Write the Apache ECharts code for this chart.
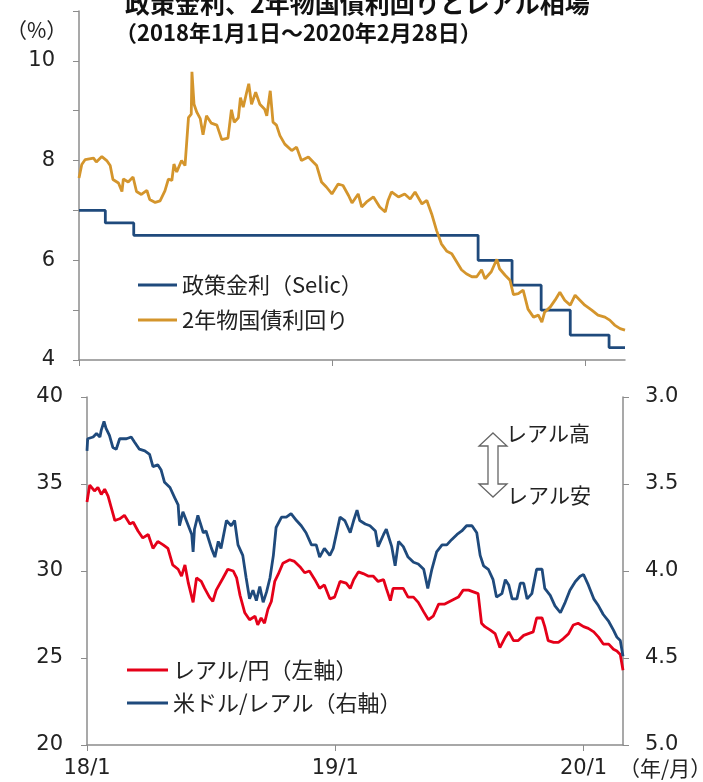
<!DOCTYPE html>
<html>
<head>
<meta charset="utf-8">
<script src="https://cdn.jsdelivr.net/npm/echarts@6/dist/echarts.min.js"></script>
<style>
  html, body { margin: 0; padding: 0; background: #fff; }
  #chart { width: 703px; height: 782px; }
</style>
</head>
<body>
<div id="chart"></div>
<script>
// 政策金利（Selic）: changes are where the step moves
const selic = [
  ['2018-01-01', 7.0], ['2018-02-08', 6.75], ['2018-03-21', 6.5], ['2019-07-31', 6.0],
  ['2019-09-18', 5.5], ['2019-10-30', 5.0], ['2019-12-11', 4.5], ['2020-02-05', 4.25],
  ['2020-02-28', 4.25]
]

// 2年物国債利回り (%)
const yield2y = [
  ['2018-01-01', 7.65], ['2018-01-05', 7.92], ['2018-01-10', 8.02], ['2018-01-22', 8.05], ['2018-01-26', 7.97],
  ['2018-02-03', 8.08], ['2018-02-10', 8.0], ['2018-02-15', 7.9], ['2018-02-19', 7.62], ['2018-02-27', 7.55],
  ['2018-03-04', 7.38], ['2018-03-06', 7.63], ['2018-03-13', 7.57], ['2018-03-20', 7.67], ['2018-03-25', 7.38],
  ['2018-04-01', 7.32], ['2018-04-09', 7.4], ['2018-04-13', 7.22], ['2018-04-21', 7.16], ['2018-04-28', 7.19],
  ['2018-05-05', 7.39], ['2018-05-10', 7.63], ['2018-05-15', 7.6], ['2018-05-18', 7.93], ['2018-05-22', 7.77],
  ['2018-05-29', 8.0], ['2018-06-03', 7.9], ['2018-06-08', 8.86], ['2018-06-12', 8.93], ['2018-06-13', 9.78],
  ['2018-06-16', 9.13], ['2018-06-20', 8.97], ['2018-06-25', 8.84], ['2018-06-29', 8.52], ['2018-07-04', 8.9],
  ['2018-07-11', 8.75], ['2018-07-19', 8.71], ['2018-07-26', 8.42], ['2018-08-04', 8.45], ['2018-08-09', 9.02],
  ['2018-08-13', 8.77], ['2018-08-19', 8.86], ['2018-08-22', 9.26], ['2018-08-26', 9.07], ['2018-08-31', 9.37],
  ['2018-09-03', 9.54], ['2018-09-07', 9.13], ['2018-09-13', 9.37], ['2018-09-19', 9.13], ['2018-09-26', 9.03],
  ['2018-09-29', 8.9], ['2018-10-04', 9.4], ['2018-10-08', 8.77], ['2018-10-13', 8.71], ['2018-10-18', 8.5],
  ['2018-10-25', 8.33], ['2018-11-04', 8.2], ['2018-11-11', 8.27], ['2018-11-18', 8.0], ['2018-11-28', 8.07],
  ['2018-12-05', 7.97], ['2018-12-10', 7.9], ['2018-12-17', 7.57], ['2018-12-24', 7.47], ['2019-01-01', 7.33],
  ['2019-01-10', 7.53], ['2019-01-17', 7.5], ['2019-01-25', 7.3], ['2019-01-30', 7.15], ['2019-02-08', 7.33],
  ['2019-02-13', 7.07], ['2019-02-20', 7.17], ['2019-03-02', 7.27], ['2019-03-11', 7.07], ['2019-03-19', 6.97],
  ['2019-03-23', 7.2], ['2019-03-28', 7.37], ['2019-04-07', 7.27], ['2019-04-16', 7.33], ['2019-04-24', 7.23],
  ['2019-05-01', 7.37], ['2019-05-11', 7.13], ['2019-05-18', 7.2], ['2019-05-25', 6.93], ['2019-06-01', 6.6],
  ['2019-06-08', 6.33], ['2019-06-16', 6.18], ['2019-06-23', 6.13], ['2019-06-30', 5.97], ['2019-07-07', 5.81],
  ['2019-07-14', 5.73], ['2019-07-22', 5.67], ['2019-07-29', 5.67], ['2019-08-05', 5.81], ['2019-08-10', 5.63],
  ['2019-08-19', 5.77], ['2019-08-27', 6.02], ['2019-08-31', 5.83], ['2019-09-08', 5.7], ['2019-09-15', 5.6],
  ['2019-09-20', 5.31], ['2019-09-27', 5.33], ['2019-10-04', 5.4], ['2019-10-11', 5.02], ['2019-10-19', 4.86],
  ['2019-10-26', 4.9], ['2019-10-31', 4.76], ['2019-11-04', 4.96], ['2019-11-12', 5.06], ['2019-11-19', 5.2],
  ['2019-11-26', 5.36], ['2019-12-03', 5.2], ['2019-12-11', 5.1], ['2019-12-18', 5.3], ['2019-12-25', 5.2],
  ['2020-01-01', 5.1], ['2020-01-11', 5.0], ['2020-01-20', 4.9], ['2020-01-30', 4.86], ['2020-02-06', 4.8],
  ['2020-02-13', 4.7], ['2020-02-21', 4.63], ['2020-02-28', 4.6]
]

// レアル/円 (左軸)
const brlJpy = [
  ['2018-01-01', 33.97], ['2018-01-05', 34.94], ['2018-01-12', 34.6], ['2018-01-17', 34.8], ['2018-01-22', 34.4],
  ['2018-01-27', 34.7], ['2018-02-01', 34.3], ['2018-02-06', 33.6], ['2018-02-11', 32.9], ['2018-02-18', 33.0],
  ['2018-02-25', 33.2], ['2018-03-05', 32.7], ['2018-03-10', 32.8], ['2018-03-17', 32.3], ['2018-03-24', 31.9],
  ['2018-04-01', 32.1], ['2018-04-08', 31.3], ['2018-04-15', 31.7], ['2018-04-23', 31.5], ['2018-04-30', 31.3],
  ['2018-05-07', 30.35], ['2018-05-15', 30.1], ['2018-05-20', 29.7], ['2018-05-25', 30.35], ['2018-05-30', 29.3],
  ['2018-06-06', 28.2], ['2018-06-11', 29.6], ['2018-06-18', 29.4], ['2018-06-23', 29.0], ['2018-06-30', 28.5],
  ['2018-07-05', 28.25], ['2018-07-10', 28.9], ['2018-07-20', 29.6], ['2018-07-27', 30.1], ['2018-08-04', 30.0],
  ['2018-08-09', 29.6], ['2018-08-14', 28.6], ['2018-08-21', 27.6], ['2018-08-28', 27.2], ['2018-09-05', 27.4],
  ['2018-09-09', 26.9], ['2018-09-14', 27.3], ['2018-09-19', 27.0], ['2018-09-24', 27.8], ['2018-09-29', 28.25],
  ['2018-10-04', 29.4], ['2018-10-09', 29.8], ['2018-10-16', 30.45], ['2018-10-26', 30.65], ['2018-11-02', 30.55],
  ['2018-11-10', 30.25], ['2018-11-17', 29.9], ['2018-11-24', 30.0], ['2018-12-02', 29.5], ['2018-12-09', 29.0],
  ['2018-12-16', 29.2], ['2018-12-24', 28.4], ['2018-12-31', 28.5], ['2019-01-08', 29.4], ['2019-01-17', 29.3],
  ['2019-01-23', 29.0], ['2019-01-28', 29.5], ['2019-02-04', 29.95], ['2019-02-11', 29.85], ['2019-02-19', 29.7],
  ['2019-02-26', 29.7], ['2019-03-05', 29.4], ['2019-03-13', 29.5], ['2019-03-17', 29.0], ['2019-03-23', 28.3],
  ['2019-03-27', 29.0], ['2019-04-04', 29.0], ['2019-04-11', 29.0], ['2019-04-18', 28.5], ['2019-04-26', 28.5],
  ['2019-05-03', 28.2], ['2019-05-11', 27.65], ['2019-05-18', 27.2], ['2019-05-25', 27.4], ['2019-06-02', 28.1],
  ['2019-06-11', 28.1], ['2019-06-21', 28.3], ['2019-07-01', 28.5], ['2019-07-08', 28.9], ['2019-07-16', 28.9],
  ['2019-07-23', 28.8], ['2019-07-30', 28.7], ['2019-08-04', 27.0], ['2019-08-09', 26.8], ['2019-08-17', 26.6],
  ['2019-08-24', 26.4], ['2019-08-31', 25.6], ['2019-09-08', 26.2], ['2019-09-13', 26.5], ['2019-09-20', 26.0],
  ['2019-09-27', 26.0], ['2019-10-05', 26.3], ['2019-10-12', 26.4], ['2019-10-19', 26.5], ['2019-10-24', 27.3],
  ['2019-11-01', 27.3], ['2019-11-05', 26.8], ['2019-11-10', 26.0], ['2019-11-18', 25.9], ['2019-11-25', 25.9],
  ['2019-12-02', 26.1], ['2019-12-10', 26.4], ['2019-12-17', 26.9], ['2019-12-24', 27.0], ['2020-01-01', 26.8],
  ['2020-01-08', 26.7], ['2020-01-16', 26.5], ['2020-01-23', 26.2], ['2020-01-30', 25.8], ['2020-02-07', 25.8],
  ['2020-02-14', 25.5], ['2020-02-19', 25.4], ['2020-02-24', 25.2], ['2020-02-28', 24.3]
]

// 米ドル/レアル (右軸, 逆目盛)
const usdBrl = [
  ['2018-01-01', 3.31], ['2018-01-02', 3.24], ['2018-01-10', 3.23], ['2018-01-15', 3.21], ['2018-01-20', 3.23],
  ['2018-01-22', 3.19], ['2018-01-26', 3.14], ['2018-01-29', 3.18], ['2018-02-03', 3.22], ['2018-02-08', 3.29],
  ['2018-02-13', 3.30], ['2018-02-18', 3.24], ['2018-02-28', 3.24], ['2018-03-07', 3.23], ['2018-03-12', 3.26],
  ['2018-03-19', 3.30], ['2018-03-27', 3.31], ['2018-04-03', 3.33], ['2018-04-08', 3.40], ['2018-04-15', 3.39],
  ['2018-04-20', 3.42], ['2018-04-25', 3.49], ['2018-05-03', 3.52], ['2018-05-10', 3.58], ['2018-05-15', 3.62],
  ['2018-05-17', 3.74], ['2018-05-22', 3.66], ['2018-05-30', 3.74], ['2018-06-04', 3.79], ['2018-06-06', 3.89],
  ['2018-06-08', 3.76], ['2018-06-13', 3.68], ['2018-06-21', 3.78], ['2018-06-25', 3.77], ['2018-07-03', 3.87],
  ['2018-07-08', 3.92], ['2018-07-13', 3.83], ['2018-07-17', 3.87], ['2018-07-25', 3.71], ['2018-08-01', 3.74],
  ['2018-08-06', 3.71], ['2018-08-11', 3.85], ['2018-08-18', 3.91], ['2018-08-23', 4.04], ['2018-08-28', 4.16],
  ['2018-09-02', 4.11], ['2018-09-07', 4.17], ['2018-09-12', 4.09], ['2018-09-17', 4.18], ['2018-09-22', 4.12],
  ['2018-09-27', 4.04], ['2018-10-02', 3.91], ['2018-10-06', 3.75], ['2018-10-14', 3.69], ['2018-10-21', 3.69],
  ['2018-10-28', 3.67], ['2018-11-05', 3.71], ['2018-11-12', 3.74], ['2018-11-19', 3.78], ['2018-11-27', 3.85],
  ['2018-12-04', 3.85], ['2018-12-09', 3.92], ['2018-12-16', 3.87], ['2018-12-24', 3.91], ['2018-12-29', 3.87],
  ['2019-01-08', 3.69], ['2019-01-15', 3.71], ['2019-01-23', 3.78], ['2019-01-28', 3.71], ['2019-02-02', 3.65],
  ['2019-02-06', 3.71], ['2019-02-14', 3.73], ['2019-02-21', 3.74], ['2019-03-01', 3.77], ['2019-03-05', 3.86],
  ['2019-03-13', 3.79], ['2019-03-17', 3.76], ['2019-03-25', 3.86], ['2019-03-30', 3.97], ['2019-04-04', 3.83],
  ['2019-04-11', 3.86], ['2019-04-18', 3.92], ['2019-04-26', 3.95], ['2019-05-03', 3.96], ['2019-05-11', 3.99],
  ['2019-05-17', 4.10], ['2019-05-23', 3.99], ['2019-05-30', 3.89], ['2019-06-07', 3.85], ['2019-06-14', 3.85],
  ['2019-06-21', 3.82], ['2019-06-29', 3.79], ['2019-07-06', 3.77], ['2019-07-13', 3.74], ['2019-07-21', 3.74],
  ['2019-07-28', 3.78], ['2019-08-02', 3.91], ['2019-08-07', 3.97], ['2019-08-14', 3.99], ['2019-08-21', 4.05],
  ['2019-08-26', 4.15], ['2019-09-03', 4.13], ['2019-09-08', 4.05], ['2019-09-13', 4.08], ['2019-09-18', 4.16],
  ['2019-09-25', 4.16], ['2019-09-30', 4.07], ['2019-10-05', 4.07], ['2019-10-10', 4.16], ['2019-10-17', 4.13],
  ['2019-10-24', 3.99], ['2019-11-01', 3.99], ['2019-11-05', 4.10], ['2019-11-13', 4.14], ['2019-11-20', 4.20],
  ['2019-11-28', 4.24], ['2019-12-05', 4.18], ['2019-12-12', 4.11], ['2019-12-20', 4.06], ['2019-12-27', 4.03],
  ['2020-01-01', 4.02], ['2020-01-08', 4.08], ['2020-01-16', 4.16], ['2020-01-23', 4.20], ['2020-01-30', 4.25],
  ['2020-02-07', 4.29], ['2020-02-14', 4.34], ['2020-02-19', 4.38], ['2020-02-24', 4.40], ['2020-02-28', 4.49]
]

const xTicks = ['2018-01-01', '2019-01-01', '2020-01-01']
const xRange = ['2018-01-01', '2020-02-28']
const seriesNames = ['政策金利（Selic）', '2年物国債利回り', 'レアル/円（左軸）', '米ドル/レアル（右軸）']

const numFont = "'DejaVu Sans', 'Noto Sans CJK JP', sans-serif"
const jpFont = "'Noto Sans CJK JP', sans-serif"
const axisGray = '#8c8c8c'
const navy = '#1f4a7c'
const gold = '#d4952c'
const red = '#e50019'

const toTime = (d) => +echarts.time.parse(d)
const withTime = (rows) => rows.map(([d, v]) => [toTime(d), v])
const tickTimes = xTicks.map(toTime)
const fmtYM = (v) => {
  const d = new Date(v)
  return String(d.getFullYear()).slice(2) + '/' + (d.getMonth() + 1)
}

const xAxisBase = (gridIndex, showLabel) => ({
  type: 'value', gridIndex, min: toTime(xRange[0]), max: toTime(xRange[1]),
  axisLine: { lineStyle: { color: axisGray, width: 1.5 } },
  axisTick: { show: true, length: 6, customValues: tickTimes, lineStyle: { color: axisGray } },
  axisLabel: { show: showLabel, customValues: tickTimes, formatter: fmtYM, fontSize: 21, color: '#222',
    fontFamily: numFont, margin: 13 },
  splitLine: { show: false }
})

const chart = echarts.init(document.getElementById('chart'))
chart.setOption({
  animation: false,
  title: [
    { text: '政策金利、2年物国債利回りとレアル相場', left: 120, top: -14,
      textStyle: { fontSize: 25, fontWeight: 'bold', color: '#111', fontFamily: jpFont } },
    { text: '（2018年1月1日～2020年2月28日）', left: 110, top: 17,
      textStyle: { fontSize: 22, fontWeight: 'bold', color: '#111', fontFamily: jpFont } }
  ],
  grid: [
    { left: 79, right: 78, top: 11, height: 349 },
    { left: 87, right: 80, top: 397, height: 348 }
  ],
  legend: [
    { left: 138, top: 273, padding: 0, orient: 'vertical', icon: 'rect', itemWidth: 39, itemHeight: 3, itemGap: 11,
      textStyle: { fontSize: 22, lineHeight: 24, color: '#222', fontFamily: jpFont },
      data: [seriesNames[0], seriesNames[1]] },
    { left: 127, top: 658, padding: 0, orient: 'vertical', icon: 'rect', itemWidth: 41, itemHeight: 3, itemGap: 9,
      textStyle: { fontSize: 22, lineHeight: 24, color: '#222', fontFamily: jpFont },
      data: [seriesNames[2], seriesNames[3]] }
  ],
  xAxis: [xAxisBase(0, false), xAxisBase(1, true)],
  yAxis: [
    { type: 'value', gridIndex: 0, min: 4, max: 11, interval: 1,
      axisLine: { show: true, lineStyle: { color: axisGray, width: 1.5 } },
      axisTick: { show: true, length: 6, lineStyle: { color: axisGray } },
      axisLabel: { formatter: (v) => (v % 2 === 0 && v <= 10 ? String(v) : ''),
        fontSize: 21, color: '#222', fontFamily: numFont, margin: 24 },
      splitLine: { show: false } },
    { type: 'value', gridIndex: 1, min: 20, max: 40, interval: 5,
      axisLine: { show: true, lineStyle: { color: axisGray, width: 1.5 } },
      axisTick: { show: true, length: 6, lineStyle: { color: axisGray } },
      axisLabel: { fontSize: 21, color: '#222', fontFamily: numFont, margin: 24 },
      splitLine: { show: false } },
    { type: 'value', gridIndex: 1, position: 'right', inverse: true, min: 3, max: 5, interval: 0.5,
      axisLine: { show: true, lineStyle: { color: axisGray, width: 1.5 } },
      axisTick: { show: true, length: 6, lineStyle: { color: axisGray } },
      axisLabel: { formatter: (v) => v.toFixed(1), fontSize: 21, color: '#222', fontFamily: numFont, margin: 22 },
      splitLine: { show: false } }
  ],
  series: [
    { name: seriesNames[0], type: 'line', xAxisIndex: 0, yAxisIndex: 0, step: 'end', data: withTime(selic),
      showSymbol: false, lineStyle: { color: navy, width: 2.8 }, itemStyle: { color: navy } },
    { name: seriesNames[1], type: 'line', xAxisIndex: 0, yAxisIndex: 0, data: withTime(yield2y),
      showSymbol: false, lineStyle: { color: gold, width: 2.8 }, itemStyle: { color: gold } },
    { name: seriesNames[2], type: 'line', xAxisIndex: 1, yAxisIndex: 1, data: withTime(brlJpy),
      showSymbol: false, lineStyle: { color: red, width: 2.8 }, itemStyle: { color: red } },
    { name: seriesNames[3], type: 'line', xAxisIndex: 1, yAxisIndex: 2, data: withTime(usdBrl),
      showSymbol: false, lineStyle: { color: navy, width: 2.8 }, itemStyle: { color: navy } }
  ],
  graphic: [
    { type: 'text', left: 6, top: 20,
      style: { text: '（%）', fontSize: 21, fill: '#222', fontFamily: jpFont } },
    { type: 'text', left: 619, top: 758,
      style: { text: '（年/月）', fontSize: 21, fill: '#222', fontFamily: jpFont } },
    // レアル高/安 の両矢印
    { type: 'polygon',
      shape: { points: [[493, 433], [507, 446], [498, 446], [498, 484], [507, 484], [493, 497],
        [479, 484], [488, 484], [488, 446], [479, 446]] },
      style: { fill: '#fff', stroke: '#666', lineWidth: 1.3 } },
    { type: 'text', left: 506, top: 423,
      style: { text: 'レアル高', fontSize: 21, fill: '#222', fontFamily: jpFont } },
    { type: 'text', left: 507, top: 485,
      style: { text: 'レアル安', fontSize: 21, fill: '#222', fontFamily: jpFont } }
  ]
})
</script>
</body>
</html>
